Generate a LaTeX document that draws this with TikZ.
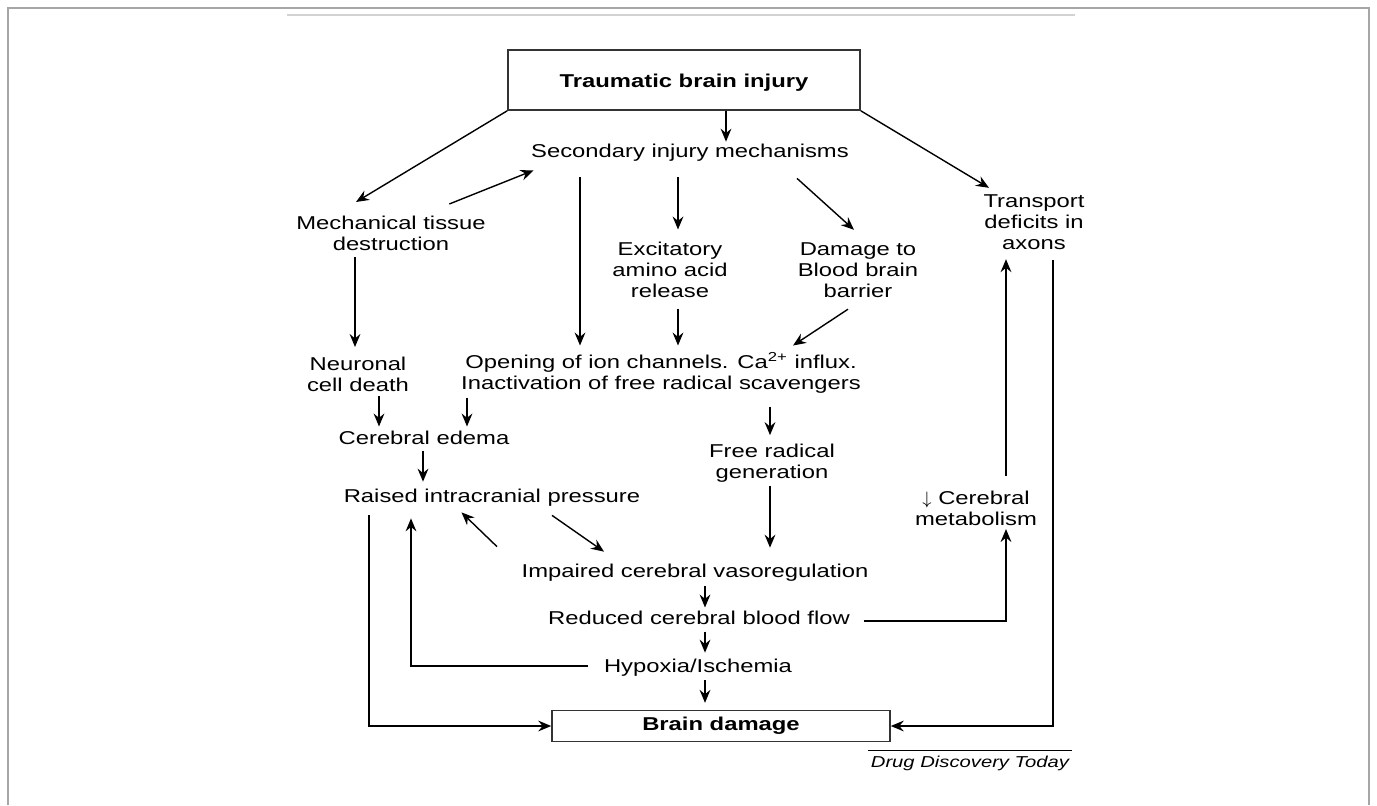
\documentclass[tikz,border=0pt]{standalone}
\usepackage{fontspec}
\setmainfont[FakeStretch=1.28]{Liberation Sans}
\usetikzlibrary{positioning,arrows.meta}

\begin{document}
\begin{tikzpicture}[x=0.5pt,y=-0.5pt,
    >={Stealth[length=6.5pt,width=5.4pt,inset=2.2pt]},
    line width=0.7pt,
    textnode/.style={align=center, inner sep=2pt, font=\fontsize{9.3}{10.5}\selectfont},
    boxednode/.style={rectangle, draw=black!80, line width=0.8pt, font=\fontsize{9.3}{10.5}\selectfont\bfseries},
]
\useasboundingbox (0,0) rectangle (1377,805);

%Frame
\draw[gray!70, line width=1pt] (8,805) -- (8,8) -- (1369,8) -- (1369,805);
\draw[gray!35, line width=1.3pt] (287,15) -- (1075,15);

%Nodes
\node[boxednode, minimum width=176pt, minimum height=30pt, text height=9.8pt] (tbi) at (684,80) {Traumatic brain injury\hspace{9pt}};
\node[textnode] (sec) at (690,153) {Secondary injury mechanisms};
\node[textnode] (mech) at (391,233) {Mechanical tissue\\destruction};
\node[textnode] (trans) at (1034,222) {Transport\\deficits in\\axons};
\node[textnode] (exc) at (670,270) {Excitatory\\amino acid\\release};
\node[textnode] (bbb) at (858,270) {Damage to\\Blood brain\\barrier};
\node[textnode] (neu) at (358,374) {Neuronal\\cell death};
\node[textnode] (open) at (661,373) {Opening of ion channels. Ca\textsuperscript{2+} influx.\\Inactivation of free radical scavengers};
\node[textnode] (edema) at (424,438) {Cerebral edema};
\node[textnode] (free) at (772,463) {Free radical\\generation};
\node[textnode] (raised) at (492,498) {Raised intracranial pressure};
\node[textnode] (metab) at (976,508) {$\downarrow$ Cerebral\\metabolism};
\node[textnode] (imp) at (695,573) {Impaired cerebral vasoregulation};
\node[textnode] (red) at (699,618) {Reduced cerebral blood flow};
\node[textnode] (hyp) at (698,668) {Hypoxia/Ischemia};
\node[boxednode, minimum width=169pt, minimum height=15pt] (bd) at (721,726) {Brain damage\hspace{9pt}};
\node[font=\fontsize{7.9}{9}\selectfont\itshape, inner sep=1pt] (ddt) at (970,763) {Drug Discovery Today};

%Lines
\draw[->] ([xshift=21pt]tbi.south) -- ([shift={(36,2)}]sec.north);
\draw[->] (tbi.south west) -- ([shift={(-35,-9)}]mech.north);
\draw[->] (tbi.south east) -- ([shift={(-45,-2)}]trans.north);
\draw[->] ([shift={(-41,-7)}]mech.north east) -- ([shift={(7,4)}]sec.south west);

\draw[->] ([shift={(-110,11)}]sec.south) -- ([shift={(-81,-2)}]open.north);
\draw[->] ([shift={(-12,11)}]sec.south) -- ([shift={(8,-8)}]exc.north);
\draw[->] ([shift={(107,12)}]sec.south) -- ([shift={(-4,-8)}]bbb.north);
\draw[->] ([shift={(8,6)}]exc.south) -- ([shift={(17,-2)}]open.north);
\draw[->] ([shift={(-10,7)}]bbb.south) -- ([shift={(132,-2)}]open.north);

\draw[->] ([shift={(-36,2)}]mech.south) -- ([shift={(-3,-5)}]neu.north);
\draw[->] ([shift={(21,0)}]neu.south) -- ([shift={(-45,0)}]edema.north);
\draw[->] ([shift={(-194,-1)}]open.south) -- ([shift={(43,0)}]edema.north);
\draw[->] ([shift={(109,8)}]open.south) -- ([shift={(-2,-4)}]free.north);
\draw[->] ([shift={(-1,1)}]edema.south) -- ([shift={(-69,-3)}]raised.north);
\draw[->] ([shift={(-2,-1)}]free.south) -- ([shift={(75,-12)}]imp.north);

\draw[->] ([shift={(60,4)}]raised.south) -- ([shift={(-91,-8)}]imp.north);
\draw[->] ([shift={(-198,-13)}]imp.north) -- ([shift={(-30.5,1)}]raised.south);
\draw[->] ([shift={(10,0)}]imp.south) -- ([shift={(6,1)}]red.north);
\draw[->] ([shift={(6,2)}]red.south) -- ([shift={(7,-2)}]hyp.north);
\draw[->] ([shift={(7,-1)}]hyp.south) -- ([shift={(-16,-7)}]bd.north);

\draw[->] ([shift={(-11,-2)}]hyp.west) -| ([shift={(-81,7)}]raised.south);
\draw[->] ([shift={(-123,4)}]raised.south) |- (bd.west);
\draw[->] ([shift={(9,3)}]red.east) -| ([shift={(30,-1)}]metab.south);
\draw[->] ([shift={(30,-10)}]metab.north) -- ([shift={(-28,5)}]trans.south);
\draw[->] ([shift={(19,6)}]trans.south) |- (bd.east);

\draw[line width=0.5pt] ([yshift=1pt]ddt.north west) -- ([yshift=1pt]ddt.north east);
\end{tikzpicture}
\end{document}
